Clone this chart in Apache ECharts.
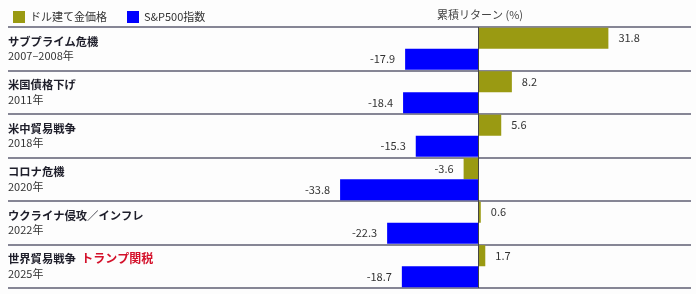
<!DOCTYPE html>
<html>
<head>
<meta charset="utf-8">
<script src="https://cdn.jsdelivr.net/npm/echarts@6/dist/echarts.min.js"></script>
<style>
  html, body { margin: 0; padding: 0; background: #fdfdfd; }
  #main { width: 696px; height: 294px; }
</style>
</head>
<body>
<div id="main"></div>
<script>
// イベント名・年
const eventNames = ['サブプライム危機', '米国債格下げ', '米中貿易戦争', 'コロナ危機', 'ウクライナ侵攻／インフレ', '世界貿易戦争']
const eventNotes = ['', '', '', '', '', 'トランプ関税']
const eventYears = ['2007–2008年', '2011年', '2018年', '2020年', '2022年', '2025年']
// 累積リターン (%)
const goldReturn = [31.8, 8.2, 5.6, -3.6, 0.6, 1.7]
const spxReturn = [-17.9, -18.4, -15.3, -33.8, -22.3, -18.7]

const font = 'Noto Sans CJK JP'
const gold = '#9a9a12'
const blue = '#0000ff'

function withLabel (arr) {
  return arr.map(v => ({ value: v, label: { position: v < 0 ? 'left' : 'right' } }))
}

const chart = echarts.init(document.getElementById('main'))
chart.setOption({
  backgroundColor: '#fdfdfd',
  textStyle: { fontFamily: font },
  title: {
    text: '累積リターン (%)',
    left: 432,
    top: 4,
    textStyle: { fontSize: 11, fontWeight: 'normal', color: '#444', fontFamily: font }
  },
  legend: {
    left: 8,
    top: 6,
    icon: 'rect',
    itemWidth: 12,
    itemHeight: 12,
    itemGap: 20,
    textStyle: { fontSize: 11, color: '#333', fontFamily: font },
    data: ['ドル建て金価格', 'S&P500指数']
  },
  grid: { left: 8, right: 5, top: 27, bottom: 6 },
  xAxis: {
    type: 'value',
    min: -115,
    max: 52,
    axisLine: { show: false },
    axisTick: { show: false },
    axisLabel: { show: false },
    splitLine: { show: false }
  },
  yAxis: {
    type: 'category',
    inverse: true,
    data: eventNames,
    axisLine: { show: false },
    axisTick: { show: false },
    splitLine: { show: true, interval: 0, lineStyle: { color: '#5e5e72', width: 1.5 } },
    axisLabel: {
      inside: true,
      margin: 0,
      align: 'left',
      interval: 0,
      formatter: (name, i) => {
        const note = eventNotes[i] ? '  {r|' + eventNotes[i] + '}' : ''
        return '{n|' + name + '}' + note + '\n{y|' + eventYears[i] + '}'
      },
      rich: {
        n: { fontSize: 11.3, fontWeight: 'bold', color: '#1e1e2a', lineHeight: 15, fontFamily: font },
        r: { fontSize: 12, fontWeight: 'bold', color: '#d4112b', lineHeight: 15, fontFamily: font },
        y: { fontSize: 11, color: '#333', lineHeight: 15, fontFamily: font }
      }
    }
  },
  series: [
    {
      name: 'ドル建て金価格',
      type: 'bar',
      data: withLabel(goldReturn),
      itemStyle: { color: gold },
      barGap: '0%',
      barCategoryGap: '3%',
      label: { show: true, distance: 10, fontSize: 11, color: '#333', fontFamily: font },
      markLine: {
        silent: true,
        symbol: 'none',
        label: { show: false },
        lineStyle: { color: '#444', width: 1, type: 'solid' },
        data: [{ xAxis: 0 }]
      }
    },
    {
      name: 'S&P500指数',
      type: 'bar',
      data: withLabel(spxReturn),
      itemStyle: { color: blue },
      barGap: '0%',
      barCategoryGap: '3%',
      label: { show: true, distance: 10, fontSize: 11, color: '#333', fontFamily: font }
    }
  ]
})
</script>
</body>
</html>
